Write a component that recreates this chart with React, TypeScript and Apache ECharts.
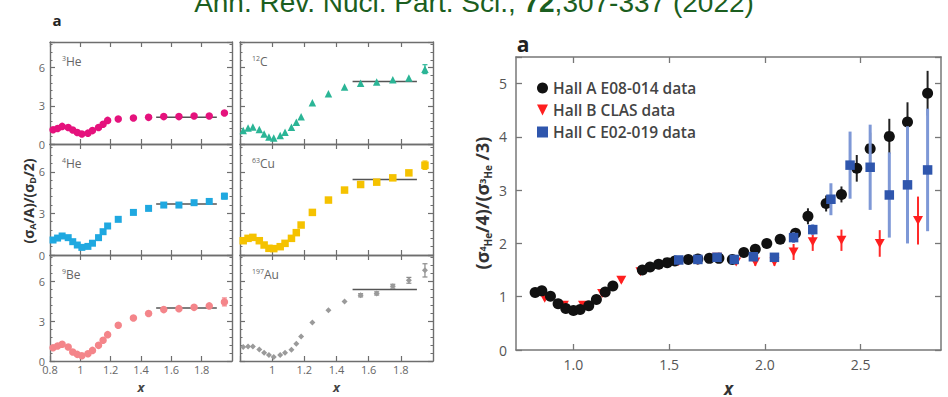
import { useEffect, useRef } from 'react';
import * as echarts from 'echarts';

// ---------- small panels (left figure) ----------
const SMALL_X = [0.82, 0.85, 0.88, 0.92, 0.95, 0.98, 1.01, 1.05, 1.08, 1.12, 1.15, 1.18, 1.25, 1.35, 1.45, 1.55, 1.65, 1.75, 1.85, 1.95];
const HE3 = [1.12, 1.22, 1.38, 1.3, 1.1, 0.9, 0.78, 0.85, 1.05, 1.3, 1.55, 1.85, 1.96, 2.04, 2.09, 2.15, 2.15, 2.2, 2.2, 2.43];
const HE4 = [1.08, 1.22, 1.37, 1.25, 0.96, 0.72, 0.55, 0.62, 0.85, 1.25, 1.68, 2.09, 2.57, 3.07, 3.36, 3.6, 3.6, 3.77, 3.86, 4.24];
const BE9 = [1.0, 1.13, 1.26, 1.06, 0.68, 0.5, 0.4, 0.55, 0.8, 1.18, 1.56, 1.99, 2.7, 3.25, 3.58, 3.88, 3.95, 4.05, 4.16, 4.46];
const C12 = [1.05, 1.26, 1.34, 1.13, 0.79, 0.55, 0.47, 0.66, 0.92, 1.32, 1.71, 2.13, 3.24, 3.95, 4.47, 4.76, 4.87, 5.03, 5.18, 5.87];
const CU63 = [1.03, 1.2, 1.27, 1.03, 0.72, 0.48, 0.46, 0.6, 0.84, 1.2, 1.61, 2.16, 3.07, 3.96, 4.68, 5.08, 5.25, 5.56, 5.92, 6.47];
const AU197 = [1.06, 1.1, 1.1, 0.86, 0.63, 0.45, 0.3, 0.45, 0.62, 0.85, 1.3, 1.85, 2.9, 3.83, 4.5, 4.96, 5.1, 5.64, 6.09, 6.84];

// [x, error]
const HE3_ERR: number[][] = [];
const HE4_ERR = [[1.95, 0.2]];
const BE9_ERR = [[1.95, 0.3]];
const C12_ERR = [[1.95, 0.35]];
const CU63_ERR = [[1.95, 0.3]];
const AU197_ERR = [[1.55, 0.12], [1.65, 0.12], [1.75, 0.15], [1.85, 0.22], [1.95, 0.5]];

const PLATEAU_RANGE = [1.5, 1.9];
const PLATEAU = [2.1, 3.67, 4.0, 4.9, 5.45, 5.39]; // He3, He4, Be9, C12, Cu63, Au197

const SMALL_X_TICKS = [0.8, 1, 1.2, 1.4, 1.6, 1.8];

// ---------- right figure ----------
const HALL_A_X = [0.8, 0.835, 0.88, 0.92, 0.96, 1.0, 1.035, 1.08, 1.12, 1.166, 1.206, 1.36, 1.4, 1.445, 1.49, 1.53, 1.6, 1.65, 1.71, 1.76, 1.83, 1.89, 1.95, 2.01, 2.08, 2.16, 2.225, 2.32, 2.4, 2.48, 2.55, 2.65, 2.745, 2.85];
const HALL_A_Y = [1.08, 1.11, 1.01, 0.87, 0.78, 0.74, 0.76, 0.83, 0.95, 1.09, 1.2, 1.5, 1.56, 1.61, 1.64, 1.67, 1.7, 1.71, 1.72, 1.72, 1.7, 1.83, 1.89, 2.0, 2.08, 2.19, 2.51, 2.75, 2.92, 3.41, 3.78, 4.01, 4.28, 4.82];
const HALL_A_ERR = [0.05, 0.05, 0.05, 0.05, 0.05, 0.05, 0.05, 0.05, 0.05, 0.05, 0.05, 0.05, 0.05, 0.05, 0.05, 0.05, 0.05, 0.05, 0.05, 0.05, 0.05, 0.07, 0.08, 0.08, 0.08, 0.1, 0.15, 0.15, 0.15, 0.25, 0.3, 0.33, 0.37, 0.42];

const HALL_B_X = [0.85, 0.95, 1.05, 1.15, 1.25, 1.35, 1.45, 1.55, 1.65, 1.75, 1.85, 1.95, 2.05, 2.15, 2.25, 2.4, 2.6, 2.8];
const HALL_B_Y = [0.97, 0.84, 0.84, 1.06, 1.31, 1.47, 1.59, 1.66, 1.68, 1.74, 1.65, 1.65, 1.65, 1.84, 2.03, 2.06, 2.0, 2.43];
const HALL_B_ERR = [0.04, 0.04, 0.04, 0.04, 0.05, 0.05, 0.05, 0.05, 0.05, 0.05, 0.05, 0.07, 0.07, 0.15, 0.17, 0.2, 0.25, 0.45];

const HALL_C_X = [1.55, 1.65, 1.75, 1.84, 1.94, 2.05, 2.15, 2.25, 2.345, 2.445, 2.55, 2.65, 2.745, 2.85];
const HALL_C_Y = [1.69, 1.7, 1.74, 1.7, 1.75, 1.74, 2.11, 2.26, 2.83, 3.47, 3.43, 2.91, 3.1, 3.38];
const HALL_C_ERR = [0.04, 0.04, 0.04, 0.05, 0.06, 0.06, 0.1, 0.1, 0.3, 0.63, 0.8, 0.8, 1.1, 1.15];

const BIG_X_TICKS = [1, 1.5, 2, 2.5];
const LEGEND = ['Hall A E08-014 data', 'Hall B CLAS data', 'Hall C E02-019 data'];

const FONT = "'Open Sans', 'Noto Sans', sans-serif";
const AXIS_COLOR = '#6e6e6e';

const COLS = [{ left: 50, width: 182 }, { left: 240, width: 193 }];
const ROWS = [{ top: 42, height: 102 }, { top: 144, height: 111 }, { top: 255, height: 106 }];

const DOWN_TRI = 'path://M0,0L10,0L5,10Z';

function errSeries(data: number[][], xi: number, yi: number, color: string, width: number, cap: number, z = 2) {
  return {
    type: 'custom',
    xAxisIndex: xi,
    yAxisIndex: yi,
    data,
    z,
    silent: true,
    encode: { x: 0, y: [1, 2] },
    renderItem: (_params: any, api: any) => {
      const x = api.value(0);
      const p1 = api.coord([x, api.value(1)]);
      const p2 = api.coord([x, api.value(2)]);
      const st = { stroke: color, lineWidth: width };
      const children: any[] = [
        { type: 'line', shape: { x1: p1[0], y1: p1[1], x2: p2[0], y2: p2[1] }, style: st },
      ];
      if (cap > 0) {
        children.push({ type: 'line', shape: { x1: p1[0] - cap, y1: p1[1], x2: p1[0] + cap, y2: p1[1] }, style: st });
        children.push({ type: 'line', shape: { x1: p2[0] - cap, y1: p2[1], x2: p2[0] + cap, y2: p2[1] }, style: st });
      }
      return { type: 'group', children };
    },
  };
}

function buildOption() {
  const panels = [
    { iso: '3', el: 'He', y: HE3, err: HE3_ERR, color: '#e5127d', symbol: 'circle', size: 7.5, col: 0, row: 0 },
    { iso: '4', el: 'He', y: HE4, err: HE4_ERR, color: '#1fa8e0', symbol: 'rect', size: 7, col: 0, row: 1 },
    { iso: '9', el: 'Be', y: BE9, err: BE9_ERR, color: '#f4858a', symbol: 'circle', size: 7.5, col: 0, row: 2 },
    { iso: '12', el: 'C', y: C12, err: C12_ERR, color: '#2bb596', symbol: 'triangle', size: 7.5, col: 1, row: 0 },
    { iso: '63', el: 'Cu', y: CU63, err: CU63_ERR, color: '#f5c200', symbol: 'rect', size: 7.5, col: 1, row: 1 },
    { iso: '197', el: 'Au', y: AU197, err: AU197_ERR, color: '#9a9a9a', symbol: 'diamond', size: 6, col: 1, row: 2 },
  ];

  const grids: any[] = [];
  const xAxes: any[] = [];
  const yAxes: any[] = [];
  const series: any[] = [];
  const graphics: any[] = [];

  const line = { show: true, onZero: false, lineStyle: { color: AXIS_COLOR, width: 1.4 } };
  const tick = { show: true, inside: true, length: 5, lineStyle: { color: AXIS_COLOR, width: 1.2 } };

  panels.forEach((p, i) => {
    const c = COLS[p.col];
    const r = ROWS[p.row];
    grids.push({ left: c.left, top: r.top, width: c.width, height: r.height, show: false, outerBoundsMode: 'none' });
    const bottomRow = p.row === 2;
    const labels = SMALL_X_TICKS.filter((v) => !(p.col === 1 && v < 0.9));
    xAxes.push({
      gridIndex: i, type: 'value', position: 'bottom', min: 0.8, max: 2.0,
      axisLine: line,
      axisTick: { ...tick, customValues: SMALL_X_TICKS },
      axisLabel: {
        show: bottomRow, customValues: labels, color: '#666', fontSize: 11, fontFamily: FONT, margin: 3,
        formatter: (v: number) => String(Math.round(v * 10) / 10),
      },
      splitLine: { show: false },
      name: bottomRow ? 'x' : '', nameLocation: 'middle', nameGap: 19,
      nameTextStyle: { fontStyle: 'italic', fontWeight: 'bold', fontSize: 13, color: '#444', fontFamily: FONT },
    });
    xAxes.push({
      gridIndex: i, type: 'value', position: 'top', min: 0.8, max: 2.0,
      axisLine: line, axisTick: { ...tick, customValues: SMALL_X_TICKS }, axisLabel: { show: false }, splitLine: { show: false },
    });
    const yBase = {
      gridIndex: i, type: 'value', min: 0, max: 8, interval: 3,
      axisLine: line, axisTick: tick,
      minorTick: { show: true, splitNumber: 5, length: 2.5, lineStyle: { color: AXIS_COLOR, width: 1 } },
      splitLine: { show: false }, minorSplitLine: { show: false },
    };
    yAxes.push({
      ...yBase, position: 'left',
      axisLabel: { show: p.col === 0, color: '#666', fontSize: 11, fontFamily: FONT, margin: 5, formatter: (v: number) => (v > 7 ? '' : String(v)) },
    });
    yAxes.push({ ...yBase, position: 'right', axisLabel: { show: false } });

    const xi = 2 * i;
    const pts = SMALL_X.map((x, k) => [x, p.y[k]]);
    const errData = p.err.map(([x, e]) => {
      const yv = p.y[SMALL_X.indexOf(x)];
      return [x, yv - e, yv + e];
    });
    series.push(errSeries(errData, xi, xi, p.color === '#9a9a9a' ? '#8a8a8a' : p.color, 1.2, 2.5));
    series.push({
      type: 'line', xAxisIndex: xi, yAxisIndex: xi, symbol: 'none', z: 1, silent: true,
      data: PLATEAU_RANGE.map((x) => [x, PLATEAU[i]]),
      lineStyle: { color: '#555', width: 1.5 },
    });
    series.push({
      type: 'scatter', xAxisIndex: xi, yAxisIndex: xi, symbol: p.symbol, symbolSize: p.size, z: 3,
      data: pts, itemStyle: { color: p.color, opacity: 1 },
    });

    graphics.push({
      type: 'text', x: c.left + 12, y: r.top + 19,
      style: {
        text: `{s|${p.iso}}{n|${p.el}}`,
        verticalAlign: 'middle',
        rich: {
          s: { fontSize: 7, fontFamily: FONT, fill: '#666', verticalAlign: 'top', lineHeight: 13 },
          n: { fontSize: 12, fontFamily: FONT, fill: '#666', lineHeight: 13 },
        },
      },
    });
  });

  // ---------- right panel ----------
  const gi = 6;
  grids.push({ left: 516, top: 57, width: 425, height: 293, show: false, outerBoundsMode: 'none' });
  const bigLine = { show: true, onZero: false, lineStyle: { color: '#777', width: 1.5 } };
  const bigTick = { show: true, inside: true, length: 6, lineStyle: { color: '#777', width: 1.3 } };
  xAxes.push({
    gridIndex: gi, type: 'value', position: 'bottom', min: 0.7, max: 2.92,
    axisLine: bigLine, axisTick: { ...bigTick, customValues: BIG_X_TICKS },
    axisLabel: { customValues: BIG_X_TICKS, color: '#555', fontSize: 14, fontFamily: FONT, margin: 7, formatter: (v: number) => v.toFixed(1) },
    splitLine: { show: false },
    name: 'x', nameLocation: 'middle', nameGap: 30,
    nameTextStyle: { fontStyle: 'italic', fontWeight: 'bold', fontSize: 17, color: '#333', fontFamily: FONT },
  });
  xAxes.push({
    gridIndex: gi, type: 'value', position: 'top', min: 0.7, max: 2.92,
    axisLine: bigLine, axisTick: { ...bigTick, customValues: BIG_X_TICKS }, axisLabel: { show: false }, splitLine: { show: false },
  });
  const bigY = {
    gridIndex: gi, type: 'value', min: 0, max: 5.5, interval: 1,
    axisLine: bigLine, axisTick: bigTick, splitLine: { show: false },
  };
  yAxes.push({
    ...bigY, position: 'left',
    axisLabel: { color: '#555', fontSize: 14, fontFamily: FONT, margin: 9, formatter: (v: number) => (v > 5.2 ? '' : String(v)) },
  });
  yAxes.push({ ...bigY, position: 'right', axisLabel: { show: false } });

  const bx = 2 * gi;
  const mk = (xs: number[], ys: number[], es: number[]) => xs.map((x, k) => [x, ys[k] - es[k], ys[k] + es[k]]);
  series.push(errSeries(mk(HALL_B_X, HALL_B_Y, HALL_B_ERR), bx, bx, '#ff2a2a', 2, 0, 4));
  series.push({
    type: 'scatter', name: LEGEND[1], xAxisIndex: bx, yAxisIndex: bx, symbol: DOWN_TRI, symbolSize: [10, 9], z: 5,
    data: HALL_B_X.map((x, k) => [x, HALL_B_Y[k]]), itemStyle: { color: '#ff1f1f', opacity: 1 },
  });
  series.push(errSeries(mk(HALL_A_X, HALL_A_Y, HALL_A_ERR), bx, bx, '#222', 2, 0, 6));
  series.push({
    type: 'scatter', name: LEGEND[0], xAxisIndex: bx, yAxisIndex: bx, symbol: 'circle', symbolSize: 11, z: 7,
    data: HALL_A_X.map((x, k) => [x, HALL_A_Y[k]]), itemStyle: { color: '#111', opacity: 1 },
  });
  series.push(errSeries(mk(HALL_C_X, HALL_C_Y, HALL_C_ERR), bx, bx, '#7e98d6', 3, 0, 8));
  series.push({
    type: 'scatter', name: LEGEND[2], xAxisIndex: bx, yAxisIndex: bx, symbol: 'rect', symbolSize: 9.5, z: 9,
    data: HALL_C_X.map((x, k) => [x, HALL_C_Y[k]]), itemStyle: { color: '#2f56ad', opacity: 1 },
  });

  // ---------- texts ----------
  graphics.push({
    type: 'text', x: 474, y: 16,
    style: {
      text: '{n|Ann. Rev. Nucl. Part. Sci., }{b|72}{n|,307-337 (2022)}',
      align: 'center', verticalAlign: 'bottom',
      rich: {
        n: { fontSize: 28, fontFamily: "'Liberation Sans', Arial, sans-serif", fill: '#1b5e20' },
        b: { fontSize: 28, fontWeight: 'bold', fontFamily: "'Liberation Sans', Arial, sans-serif", fill: '#1b5e20' },
      },
    },
  });
  graphics.push({
    type: 'text', x: 57, y: 20,
    style: { text: 'a', fontSize: 15, fontWeight: 'bold', fontFamily: FONT, fill: '#222', align: 'center', verticalAlign: 'middle' },
  });
  graphics.push({
    type: 'text', x: 523, y: 44,
    style: { text: 'a', fontSize: 21, fontWeight: 'bold', fontFamily: FONT, fill: '#222', align: 'center', verticalAlign: 'middle' },
  });
  graphics.push({
    type: 'text', x: 28, y: 201, rotation: Math.PI / 2,
    style: {
      text: '{n|(σ}{b|A}{n|/A)/(σ}{b|D}{n|/2)}',
      align: 'center', verticalAlign: 'middle',
      rich: {
        n: { fontSize: 14, fontWeight: 'bold', fontFamily: FONT, fill: '#333', lineHeight: 18 },
        b: { fontSize: 9, fontWeight: 'bold', fontFamily: FONT, fill: '#333', verticalAlign: 'bottom', lineHeight: 10 },
      },
    },
  });
  graphics.push({
    type: 'text', x: 482, y: 203, rotation: Math.PI / 2,
    style: {
      text: '{n|(σ}{t|4}{b|He}{n|/4)/(σ}{t|3}{b|He}{n| /3)}',
      align: 'center', verticalAlign: 'middle',
      rich: {
        n: { fontSize: 18, fontWeight: 'bold', fontFamily: FONT, fill: '#333', lineHeight: 22 },
        t: { fontSize: 9, fontWeight: 'bold', fontFamily: FONT, fill: '#333', verticalAlign: 'middle', lineHeight: 10 },
        b: { fontSize: 10, fontWeight: 'bold', fontFamily: FONT, fill: '#333', verticalAlign: 'bottom', lineHeight: 11 },
      },
    },
  });

  return {
    animation: false,
    backgroundColor: '#fff',
    grid: grids,
    xAxis: xAxes,
    yAxis: yAxes,
    legend: {
      show: true, orient: 'vertical', left: 532, top: 75, itemWidth: 11, itemHeight: 11, itemGap: 6,
      data: LEGEND,
      textStyle: { fontSize: 15.5, color: '#444', fontFamily: FONT, fontWeight: 600 },
    },
    graphic: graphics,
    series,
  };
}

export default function App() {
  const ref = useRef<HTMLDivElement>(null);
  useEffect(() => {
    const chart = echarts.init(ref.current!, null, { renderer: 'svg' });
    chart.setOption(buildOption() as any);
    return () => chart.dispose();
  }, []);
  return <div ref={ref} style={{ position: 'fixed', left: 0, top: 0, width: 948, height: 397 }} />;
}
